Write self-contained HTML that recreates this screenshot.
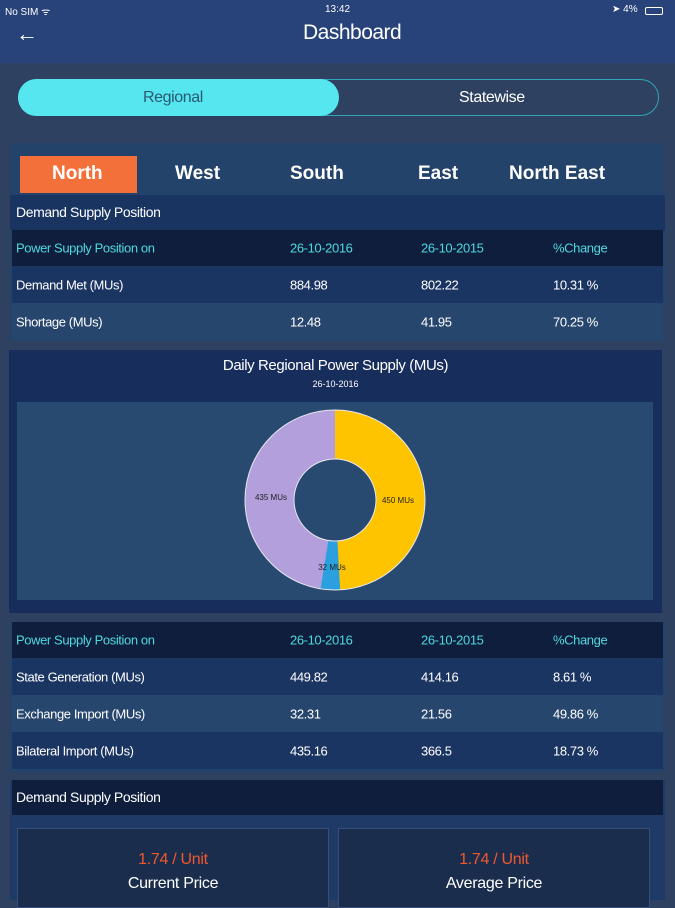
<!DOCTYPE html>
<html><head><meta charset="utf-8"><style>
*{margin:0;padding:0;box-sizing:border-box}
body{width:675px;height:900px;overflow:hidden;background:#2e4160;font-family:"Liberation Sans",sans-serif;color:#fff;position:relative}
.a{position:absolute}
.t{position:absolute;white-space:nowrap}
.row{position:absolute;left:14px;width:651px;font-size:13px;letter-spacing:-0.4px}
.row span{position:absolute;top:50%;transform:translateY(-50%)}
.cy{color:#4fd8e0}
</style></head><body>
<div class="a" style="left:0;top:0;width:675px;height:63px;background:#28437a"></div>
<div class="t" style="left:5px;top:4px;font-size:10px">No SIM ᯤ</div>
<div class="t" style="left:325px;top:4px;font-size:10px">13:42</div>
<div class="t" style="left:612px;top:4px;font-size:10px">➤ 4%</div>
<div class="a" style="left:645px;top:7px;width:18px;height:8px;border:1px solid #fff;border-radius:2px"></div>
<div class="t" style="left:16px;top:21px;font-size:22px">←</div>
<div class="t" style="left:303px;top:21px;font-size:21px;letter-spacing:-0.5px">Dashboard</div>

<div class="a" style="left:18px;top:79px;width:641px;height:37px;border:1.5px solid #2fa6b8;border-radius:19px"></div>
<div class="a" style="left:18px;top:79px;width:321px;height:37px;background:#55e6f0;border-radius:19px"></div>
<div class="t" style="left:143px;top:89px;font-size:16px;color:#2a5a70;letter-spacing:-0.4px">Regional</div>
<div class="t" style="left:459px;top:89px;font-size:16px;letter-spacing:-0.4px">Statewise</div>

<div class="a" style="left:10px;top:143px;width:655px;height:198px;background:#24436a"></div>
<div class="a" style="left:20px;top:156px;width:117px;height:37px;background:#f4703a"></div>
<div class="t" style="left:52px;top:163px;font-size:19px;font-weight:bold">North</div>
<div class="t" style="left:175px;top:163px;font-size:19px;font-weight:bold">West</div>
<div class="t" style="left:290px;top:163px;font-size:19px;font-weight:bold">South</div>
<div class="t" style="left:418px;top:163px;font-size:19px;font-weight:bold">East</div>
<div class="t" style="left:509px;top:163px;font-size:19px;font-weight:bold">North East</div>
<div class="a" style="left:10px;top:195px;width:655px;height:35px;background:#1a3462"></div>
<div class="t" style="left:16px;top:204px;font-size:14px;letter-spacing:-0.4px">Demand Supply Position</div>
<div class="row" style="top:230px;height:36px;background:#0f1e3d;left:12px"><span class="cy" style="left:4px">Power Supply Position on</span><span class="cy" style="left:278px">26-10-2016</span><span class="cy" style="left:409px">26-10-2015</span><span class="cy" style="left:541px">%Change</span></div>
<div class="row" style="top:266px;height:37px;background:#1b3563;left:12px"><span style="left:4px">Demand Met (MUs)</span><span style="left:278px">884.98</span><span style="left:409px">802.22</span><span style="left:541px">10.31 %</span></div>
<div class="row" style="top:303px;height:37px;background:#27466e;left:12px"><span style="left:4px">Shortage (MUs)</span><span style="left:278px">12.48</span><span style="left:409px">41.95</span><span style="left:541px">70.25 %</span></div>

<div class="a" style="left:9px;top:350px;width:653px;height:263px;background:#172d5c"></div>
<div class="a" style="left:17px;top:402px;width:636px;height:198px;background:#294a70"></div>
<div class="t" style="left:0;width:671px;text-align:center;top:357px;font-size:15px;letter-spacing:-0.4px">Daily Regional Power Supply (MUs)</div>
<div class="t" style="left:0;width:671px;text-align:center;top:379px;font-size:9px">26-10-2016</div>
<svg class="a" style="left:0;top:0" width="675" height="900">
<g transform="rotate(-90 335 500)" fill="none" stroke-width="49">
<circle cx="335" cy="500" r="65.5" stroke="#b29fdc"/>
<circle cx="335" cy="500" r="65.5" stroke="#ffc400" stroke-dasharray="201.9 500"/>
<circle cx="335" cy="500" r="65.5" stroke="#2aa0de" stroke-dasharray="0 201.9 14.4 500"/>
</g>
<circle cx="335" cy="500" r="90" fill="none" stroke="#e8e8f0" stroke-width="1"/>
<circle cx="335" cy="500" r="41" fill="#294a70" stroke="#e8e8f0" stroke-width="1"/>
<text x="271" y="500" font-size="8" text-anchor="middle" fill="#222" font-family="Liberation Sans">435 MUs</text>
<text x="398" y="503" font-size="8" text-anchor="middle" fill="#222" font-family="Liberation Sans">450 MUs</text>
<text x="332" y="570" font-size="8" text-anchor="middle" fill="#222" font-family="Liberation Sans">32 MUs</text>
</svg>

<div class="a" style="left:10px;top:622px;width:655px;height:150px;background:#24436a"></div>
<div class="row" style="top:622px;height:36px;background:#0f1e3d;left:12px"><span class="cy" style="left:4px">Power Supply Position on</span><span class="cy" style="left:278px">26-10-2016</span><span class="cy" style="left:409px">26-10-2015</span><span class="cy" style="left:541px">%Change</span></div>
<div class="row" style="top:658px;height:37px;background:#1b3563;left:12px"><span style="left:4px">State Generation (MUs)</span><span style="left:278px">449.82</span><span style="left:409px">414.16</span><span style="left:541px">8.61 %</span></div>
<div class="row" style="top:695px;height:37px;background:#27466e;left:12px"><span style="left:4px">Exchange Import (MUs)</span><span style="left:278px">32.31</span><span style="left:409px">21.56</span><span style="left:541px">49.86 %</span></div>
<div class="row" style="top:732px;height:37px;background:#1b3563;left:12px"><span style="left:4px">Bilateral Import (MUs)</span><span style="left:278px">435.16</span><span style="left:409px">366.5</span><span style="left:541px">18.73 %</span></div>

<div class="a" style="left:10px;top:780px;width:655px;height:120px;background:#1f3a66"></div>
<div class="a" style="left:12px;top:780px;width:651px;height:35px;background:#0f1e3d"></div>
<div class="t" style="left:16px;top:789px;font-size:14px;letter-spacing:-0.4px">Demand Supply Position</div>
<div class="a" style="left:17px;top:828px;width:312px;height:80px;background:#1a2d4d;border:1px solid #34507a"></div>
<div class="a" style="left:338px;top:828px;width:312px;height:80px;background:#1a2d4d;border:1px solid #34507a"></div>
<div class="t" style="left:17px;width:312px;text-align:center;top:851px;font-size:16px;color:#f0582e;letter-spacing:-0.3px">1.74 / Unit</div>
<div class="t" style="left:17px;width:312px;text-align:center;top:875px;font-size:16px;letter-spacing:-0.3px">Current Price</div>
<div class="t" style="left:338px;width:312px;text-align:center;top:851px;font-size:16px;color:#f0582e;letter-spacing:-0.3px">1.74 / Unit</div>
<div class="t" style="left:338px;width:312px;text-align:center;top:875px;font-size:16px;letter-spacing:-0.3px">Average Price</div>
</body></html>
